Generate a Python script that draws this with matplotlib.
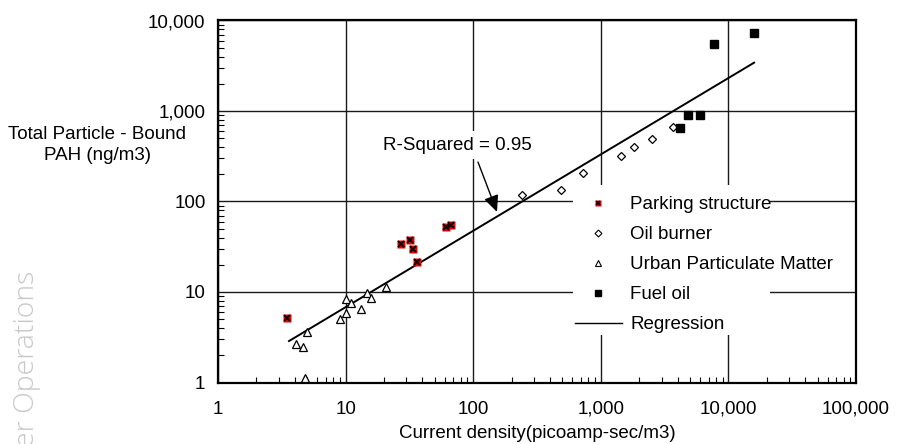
import matplotlib
matplotlib.use('Agg')
import matplotlib.pyplot as plt
from matplotlib.lines import Line2D
from matplotlib.patches import Rectangle
from matplotlib.ticker import FixedLocator, FixedFormatter, LogLocator, NullFormatter

plt.rcParams['font.family'] = ['Liberation Sans', 'DejaVu Sans']

# ---- data ----
parking_x = [3.5, 27, 32, 34, 36.5, 61, 67]
parking_y = [5.2, 34, 38, 30, 21.5, 52, 55]
oil_x = [243, 486, 731, 1450, 1825, 2500, 3650]
oil_y = [118, 134, 208, 318, 403, 487, 661]
urban_x = [4.05, 4.66, 5.0, 4.8, 9.0, 10.0, 10.1, 11.1, 13.1, 14.8, 15.7, 20.9]
urban_y = [2.64, 2.49, 3.64, 1.13, 5.03, 5.9, 8.43, 7.5, 6.44, 9.67, 8.51, 11.3]
fuel_x = [4190, 4790, 6010, 7660, 15900]
fuel_y = [654, 910, 910, 5500, 7220]
reg_x = [3.6, 15900]
reg_y = [2.87, 3420]
x_ticks = [1, 10, 100, 1000, 10000, 100000]
x_tick_labels = ['1', '10', '100', '1,000', '10,000', '100,000']
y_ticks = [1, 10, 100, 1000, 10000]
y_tick_labels = ['1', '10', '100', '1,000', '10,000']
series_labels = ['Parking structure', 'Oil burner', 'Urban Particulate Matter', 'Fuel oil', 'Regression']
r_squared_label = 'R-Squared = 0.95'
arrow_tip = (153.7, 76.6)
arrow_start = (109, 273)

W, H = 901, 444
fig = plt.figure(figsize=(W / 100, H / 100), dpi=100)
L, R, T, B = 218, 856, 20.5, 382.5
ax = fig.add_axes([L / W, (H - B) / H, (R - L) / W, (B - T) / H])
ax.set_xscale('log')
ax.set_yscale('log')
ax.set_xlim(1, 100000)
ax.set_ylim(1, 10000)

FS = 13.5
ax.xaxis.set_major_locator(FixedLocator(x_ticks))
ax.xaxis.set_major_formatter(FixedFormatter(x_tick_labels))
ax.yaxis.set_major_locator(FixedLocator(y_ticks))
ax.yaxis.set_major_formatter(FixedFormatter(y_tick_labels))
ax.xaxis.set_minor_locator(LogLocator(base=10, subs=range(2, 10), numticks=20))
ax.yaxis.set_minor_locator(LogLocator(base=10, subs=range(2, 10), numticks=20))
ax.xaxis.set_minor_formatter(NullFormatter())
ax.yaxis.set_minor_formatter(NullFormatter())
ax.tick_params(which='major', length=0, labelsize=FS, colors='black')
ax.tick_params(axis='x', which='major', pad=13)
ax.tick_params(axis='y', which='major', pad=9)
ax.tick_params(which='minor', direction='in', length=4, width=0.8, color='black')

ax.set_axisbelow(True)
ax.grid(True, which='major', color='#1a1a1a', linewidth=1.0)
for s in ax.spines.values():
    s.set_linewidth(1.6)
    s.set_color('black')

# white area behind legend (hides gridlines)
ax.add_patch(Rectangle(((573 - L) / (R - L), (B - 335) / (B - T)),
                       (770 - 573) / (R - L), (335 - 185) / (B - T),
                       transform=ax.transAxes, facecolor='white', edgecolor='none', zorder=1))

# data
ax.plot(reg_x, reg_y, color='black', lw=1.4, zorder=3)
ax.plot(parking_x, parking_y, ls='none', marker='s', ms=6, mfc='#e00000', mec='none', zorder=4)
ax.plot(parking_x, parking_y, ls='none', marker='x', ms=4.2, mew=1.3, color='black', zorder=5)
ax.plot(oil_x, oil_y, ls='none', marker='D', ms=4.5, mfc='white', mec='black', mew=0.9, zorder=4)
ax.plot(urban_x, urban_y, ls='none', marker='^', ms=6, mfc='white', mec='black', mew=0.9, zorder=4, clip_on=False)
ax.plot(fuel_x, fuel_y, ls='none', marker='s', ms=6, color='black', zorder=4)

# annotation
ax.text((457 - L) / (R - L), (B - 145) / (B - T), r_squared_label, transform=ax.transAxes,
        fontsize=FS, ha='center', va='center', zorder=2,
        bbox=dict(boxstyle='square,pad=0.3', facecolor='white', edgecolor='none'))
ax.annotate('', xy=arrow_tip, xytext=arrow_start,
            arrowprops=dict(arrowstyle='-|>,head_length=1.0,head_width=0.45', color='black',
                            lw=1.0, shrinkA=0, shrinkB=0, mutation_scale=10), zorder=3)

# legend
h_park = (Line2D([], [], ls='none', marker='s', ms=5, mfc='#e00000', mec='none'),
          Line2D([], [], ls='none', marker='x', ms=3.5, mew=1.1, color='black'))
h_oil = Line2D([], [], ls='none', marker='D', ms=3.5, mfc='white', mec='black', mew=0.8)
h_urb = Line2D([], [], ls='none', marker='^', ms=4.5, mfc='white', mec='black', mew=0.8)
h_fuel = Line2D([], [], ls='none', marker='s', ms=4.5, color='black')
h_reg = Line2D([], [], color='black', lw=1.0)
leg = ax.legend([h_park, h_oil, h_urb, h_fuel, h_reg], series_labels,
                loc='upper left', bbox_to_anchor=((575 - L) / (R - L), (B - 196) / (B - T)),
                frameon=False, fontsize=FS, borderpad=0, borderaxespad=0,
                handlelength=2.5, handletextpad=0.45, labelspacing=0.69)
leg.set_zorder(6)

# axis labels
fig.text(97 / W, 1 - 145 / H, 'Total Particle - Bound\nPAH (ng/m3)', ha='center', va='center',
         fontsize=FS, linespacing=1.25)
fig.text(((L + R) / 2) / W, 1 - 433 / H, 'Current density(picoamp-sec/m3)', ha='center',
         va='center', fontsize=FS)

# watermark
fig.text(34 / W, 1 - 447 / H, 'er Operations', rotation=90, rotation_mode='anchor',
         ha='left', va='baseline', fontsize=20.5, color='#c8c8c8', family=['Open Sans', 'DejaVu Sans'],
         fontweight='light')

fig.savefig('out.png', dpi=100)
